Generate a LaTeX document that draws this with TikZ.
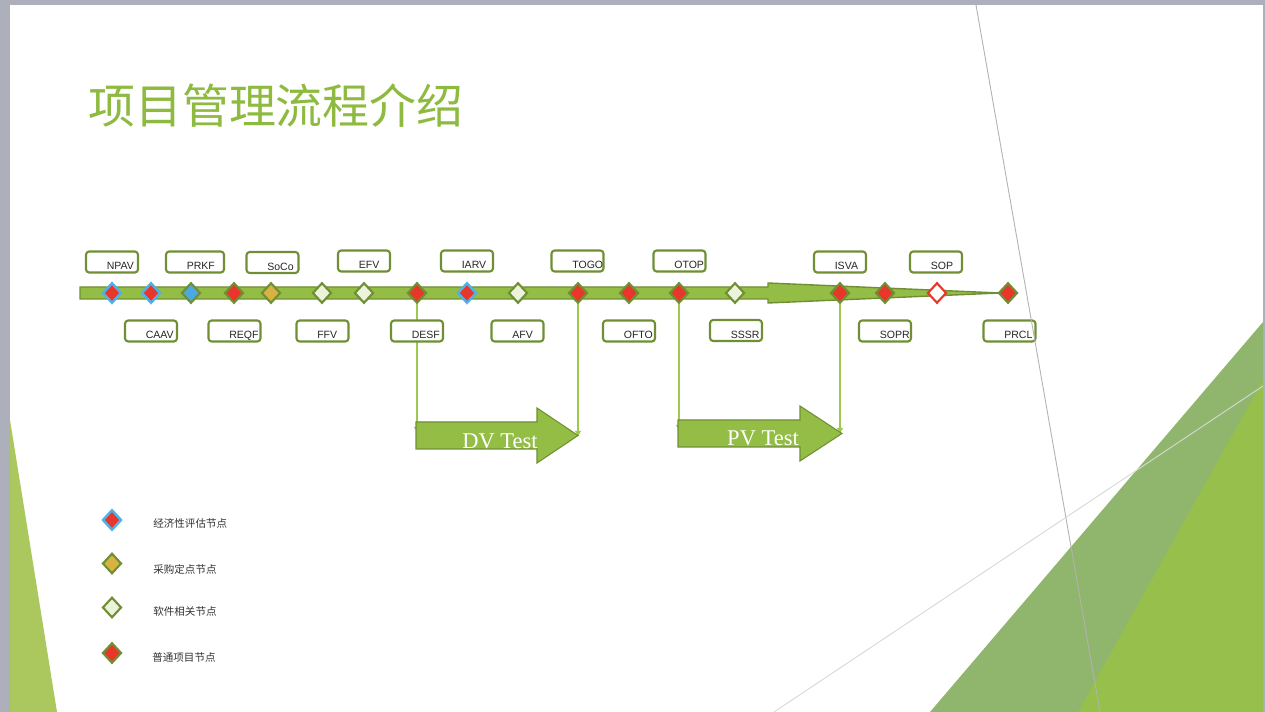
\documentclass[tikz,border=0pt]{standalone}
\usepackage{fontspec}
\setmainfont{Liberation Serif}
\setsansfont{Liberation Sans}
\newfontfamily\cjkfont{Noto Sans CJK SC}
\usepackage{xcolor}
\usetikzlibrary{arrows.meta, shapes.geometric}

\definecolor{cFrame}{RGB}{173,176,186}
\definecolor{cTitle}{RGB}{141,186,63}
\definecolor{cBar}{RGB}{148,189,69}
\definecolor{cBarLine}{RGB}{112,143,52}
\definecolor{cDrop}{RGB}{157,201,78}
\definecolor{cRed}{RGB}{232,54,42}
\definecolor{cBlue}{RGB}{75,168,224}
\definecolor{cBlueLine}{RGB}{80,176,232}
\definecolor{cGold}{RGB}{216,179,67}
\definecolor{cSoft}{RGB}{235,243,219}
\definecolor{cMuted}{RGB}{143,182,108}
\definecolor{cBright}{RGB}{150,191,75}
\definecolor{cLeft}{RGB}{170,200,93}

\begin{document}
\begin{tikzpicture}[
    x=0.02cm, y=-0.02cm,
    >=Stealth,
    gatebox/.style={
        draw=cBarLine, line width=1.2pt, rounded corners=1.8pt, fill=white,
        minimum width=1.04cm, minimum height=0.42cm, inner sep=0pt,
        label={[gatetext]south west:#1}
    },
    gatetext/.style={anchor=base west, inner sep=0pt, xshift=0.43cm,
        yshift=0.075cm, font=\sffamily\fontsize{6}{7}\selectfont,
        text=black!85},
    gate/.style={diamond, minimum width=0.38cm, minimum height=0.41cm,
        inner sep=0pt, line width=1.2pt},
    econ/.style={gate, fill=cRed, draw=cBlueLine, line width=1.4pt},
    buy/.style={gate, fill=cGold, draw=cBarLine},
    soft/.style={gate, fill=cSoft, draw=cBarLine},
    plain/.style={gate, fill=cRed, draw=cBarLine},
    drop/.style={draw=cDrop, line width=1.4pt, -{Latex[length=3.5pt,width=4pt]}},
    testarrow/.style={fill=cBar, draw=cBarLine, line width=0.6pt},
    testtext/.style={font=\rmfamily\fontsize{12.8}{14}\selectfont, text=white,
        inner sep=0pt},
    legendtext/.style={anchor=west, inner sep=0pt,
        font=\cjkfont\fontsize{6}{7}\selectfont, text=black!80}
]
\useasboundingbox (0,0) rectangle (1265,712);

% slide frame and decoration
\fill[cFrame] (0,0) rectangle (1265,712);
\fill[white] (10,5) rectangle (1263,712);
\fill[cLeft] (10,420) -- (57,712) -- (10,712) -- cycle;
\fill[cMuted] (930,712) -- (1263,322) -- (1263,712) -- cycle;
\fill[cBright] (1078,712) -- (1263,380) -- (1263,712) -- cycle;

% Title
\node[anchor=west, inner sep=0pt, font=\cjkfont\fontsize{26.7}{30}\selectfont,
      text=cTitle] (title) at (88,106) {项目管理流程介绍};

% Timeline bar
\draw[fill=cBar, draw=cBarLine, line width=0.8pt]
    (80,287) -- (768,287) -- (768,283) -- (1000,293) -- (768,303)
    -- (768,299) -- (80,299) -- cycle;

% Milestones
\node[econ] (npavm) at (112,293) {};
\node[econ] (caavm) at (151,293) {};
\node[gate, fill=cBlue, draw=cBarLine] (prkfm) at (191,293) {};
\node[plain] (reqfm) at (234,293) {};
\node[buy] (socom) at (271,293) {};
\node[soft] (ffvm) at (322,293) {};
\node[soft] (efvm) at (364,293) {};
\node[plain] (desfm) at (417,293) {};
\node[econ] (iarvm) at (467,293) {};
\node[soft] (afvm) at (518,293) {};
\node[plain] (togom) at (578,293) {};
\node[plain] (oftom) at (629,293) {};
\node[plain] (otopm) at (679,293) {};
\node[soft] (sssrm) at (735,293) {};
\node[plain] (isvam) at (840,293) {};
\node[plain] (soprm) at (885,293) {};
\node[gate, fill=white, draw=cRed] (sopm) at (937,293) {};
\node[plain] (prclm) at (1008,293) {};

% Gate labels, upper row
\node[gatebox=NPAV] (npav) at (112,262) {};
\node[gatebox=PRKF, minimum width=1.16cm] (prkf) at (195,262) {};
\node[gatebox=SoCo] (soco) at (272.5,262.5) {};
\node[gatebox=EFV] (efv) at (364,261) {};
\node[gatebox=IARV] (iarv) at (467,261) {};
\node[gatebox=TOGO] (togo) at (577.5,261) {};
\node[gatebox=OTOP] (otop) at (679.5,261) {};
\node[gatebox=ISVA] (isva) at (840,262) {};
\node[gatebox=SOP] (sop) at (936,262) {};

% Drop lines into the test phases
\coordinate (dvin) at (417,433);
\coordinate (dvout) at (578,437);
\coordinate (pvin) at (679,431);
\coordinate (pvout) at (840,434);
\draw[drop] (desfm.south) -- (dvin);
\draw[drop] (togom.south) -- (dvout);
\draw[drop] (otopm.south) -- (pvin);
\draw[drop] (isvam.south) -- (pvout);

% Gate labels, lower row
\node[gatebox=CAAV] (caav) at (151,331) {};
\node[gatebox=REQF] (reqf) at (234.5,331) {};
\node[gatebox=FFV] (ffv) at (322.5,331) {};
\node[gatebox=DESF] (desf) at (417,331) {};
\node[gatebox=AFV] (afv) at (517.5,331) {};
\node[gatebox=OFTO] (ofto) at (629,331) {};
\node[gatebox=SSSR] (sssr) at (736,330.5) {};
\node[gatebox=SOPR] (sopr) at (885,331) {};
\node[gatebox=PRCL] (prcl) at (1009.5,331) {};

% Test phases
\draw[testarrow] (416,422) -- (537,422) -- (537,408) -- (578,435.5)
    -- (537,463) -- (537,449) -- (416,449) -- cycle;
\node[testtext] (dvtest) at (500,441) {DV Test};
\draw[testarrow] (678,420) -- (800,420) -- (800,406) -- (842,433.5)
    -- (800,461) -- (800,447) -- (678,447) -- cycle;
\node[testtext] (pvtest) at (763,438) {PV Test};

% Legend
\node[econ] (lgecon) at (112,520) {};
\node[legendtext] (lgecontext) at (153,523.5) {经济性评估节点};
\node[buy] (lgbuy) at (112,563.5) {};
\node[legendtext] (lgbuytext) at (153,569) {采购定点节点};
\node[soft] (lgsoft) at (112,607.5) {};
\node[legendtext] (lgsofttext) at (153,611.5) {软件相关节点};
\node[plain] (lgplain) at (112,653) {};
\node[legendtext] (lgplaintext) at (152,657) {普通项目节点};

% thin lines of the slide design
\draw[black!30, line width=0.5pt] (976,5) -- (1100,712);
\draw[black!15, line width=0.5pt] (774,712) -- (1263,386);
\end{tikzpicture}
\end{document}
